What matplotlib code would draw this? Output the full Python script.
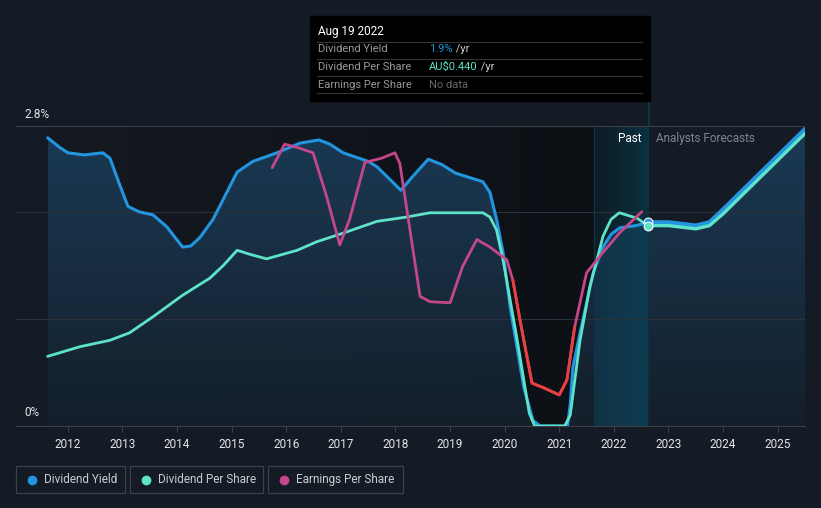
import numpy as np
import matplotlib.pyplot as plt
from matplotlib.colors import LinearSegmentedColormap

plt.rcParams['font.family'] = ['Roboto', 'DejaVu Sans']

# dividend yield (%) - past
dy_years = [2011.63, 2011.85, 2012.0, 2012.3, 2012.64, 2012.77, 2012.95, 2013.1, 2013.3, 2013.56,
            2013.81, 2014.1, 2014.25, 2014.42, 2014.66, 2014.9, 2015.1, 2015.39, 2015.83, 2016.25,
            2016.6, 2016.8, 2017.04, 2017.5, 2017.66, 2017.9, 2018.1, 2018.3, 2018.6, 2018.85,
            2019.1, 2019.6, 2019.73, 2019.85, 2019.97, 2020.1, 2020.35, 2020.52, 2020.65, 2021.15,
            2021.2, 2021.25, 2021.38, 2021.62, 2021.8, 2021.95, 2022.11, 2022.4, 2022.63]
dy_vals = [2.69, 2.60, 2.55, 2.53, 2.55, 2.50, 2.25, 2.05, 2.00, 1.97,
           1.86, 1.67, 1.68, 1.76, 1.93, 2.17, 2.37, 2.47, 2.55, 2.64,
           2.67, 2.63, 2.55, 2.47, 2.42, 2.30, 2.20, 2.32, 2.49, 2.44,
           2.36, 2.28, 2.18, 1.93, 1.62, 1.11, 0.36, 0.05, 0.0, 0.0,
           0.2, 0.55, 0.87, 1.43, 1.67, 1.79, 1.85, 1.87, 1.90]
# dividend yield - analyst forecast
dyf_years = [2022.63, 2023.0, 2023.5, 2023.75, 2024.0, 2024.5, 2025.0, 2025.5]
dyf_vals = [1.90, 1.90, 1.87, 1.90, 2.02, 2.27, 2.52, 2.77]

# dividend per share (scaled to same axis)
dps_years = [2011.63, 2012.22, 2012.77, 2013.13, 2013.56, 2014.1, 2014.6, 2014.85, 2015.1, 2015.35,
             2015.64, 2016.2, 2016.56, 2017.04, 2017.66, 2018.2, 2018.63, 2019.6, 2019.73, 2019.85,
             2019.97, 2020.22, 2020.35, 2020.45, 2020.55, 2021.1, 2021.2, 2021.38, 2021.56, 2021.8,
             2021.95, 2022.1, 2022.42, 2022.63]
dps_vals = [0.65, 0.74, 0.80, 0.87, 1.02, 1.22, 1.38, 1.50, 1.64, 1.60,
            1.56, 1.64, 1.72, 1.80, 1.91, 1.95, 1.99, 1.99, 1.95, 1.83,
            1.55, 0.83, 0.43, 0.12, 0.0, 0.0, 0.1, 0.80, 1.30, 1.77,
            1.93, 1.99, 1.94, 1.87]
dpsf_years = [2022.63, 2023.0, 2023.5, 2023.75, 2024.0, 2024.5, 2025.0, 2025.5]
dpsf_vals = [1.87, 1.87, 1.84, 1.87, 1.98, 2.23, 2.48, 2.73]

# earnings per share (scaled)
eps_years = [2015.74, 2015.97, 2016.2, 2016.49, 2016.74, 2016.98, 2017.16, 2017.44, 2017.75, 2017.99,
             2018.08, 2018.45, 2018.63, 2019.0, 2019.23, 2019.49, 2019.73, 2020.04, 2020.15, 2020.28,
             2020.5, 2020.7, 2021.0, 2021.14, 2021.28, 2021.5, 2021.8, 2022.1, 2022.51]
eps_vals = [2.41, 2.63, 2.60, 2.55, 2.14, 1.69, 1.93, 2.46, 2.50, 2.55,
            2.45, 1.21, 1.16, 1.15, 1.49, 1.74, 1.67, 1.55, 1.36, 0.99,
            0.40, 0.36, 0.29, 0.43, 0.92, 1.43, 1.62, 1.80, 2.00]

years = list(range(2012, 2026))
past_start, today = 2021.63, 2022.63

BG = '#151b25'
BLUE = '#2394df'
CYAN = '#5ee3c9'
PINK = '#c4478a'
RED = '#e8413e'

fig = plt.figure(figsize=(8.21, 5.08), dpi=100, facecolor=BG)
ax = fig.add_axes([16 / 821, 82 / 508, 789 / 821, 300 / 508])
ax.set_facecolor(BG)
x0, x1 = 2011.05, 2025.5
ax.set_xlim(x0, x1)
ax.set_ylim(0, 2.8)

# darker past background
cm_dark = LinearSegmentedColormap.from_list('d', ['#141921', '#0d1015'])
ax.imshow(np.linspace(0, 1, 200).reshape(1, -1), cmap=cm_dark, aspect='auto',
          extent=[2011.63, past_start, 0, 2.8], zorder=0)
# past highlight
cm_past = LinearSegmentedColormap.from_list('p', ['#0e1c25', '#0b3141'])
ax.imshow(np.linspace(0, 1, 200).reshape(1, -1), cmap=cm_past, aspect='auto',
          extent=[past_start, today, 0, 2.8], zorder=0)
ax.axvline(past_start, color='#12394a', lw=0.8, zorder=1)

# fill under dividend yield
all_x = dy_years + dyf_years[1:]
all_y = dy_vals + dyf_vals[1:]
poly = ax.fill_between(all_x, 0, all_y, color='none', lw=0)
cm_fill = LinearSegmentedColormap.from_list('f', ['#15202c', '#1b3c58'])
im = ax.imshow(np.linspace(0, 1, 200).reshape(-1, 1), cmap=cm_fill, aspect='auto', origin='lower',
               extent=[2011.63, x1, 0, 2.8], zorder=1, alpha=0.95)
im.set_clip_path(poly.get_paths()[0], transform=ax.transData)
px = [x for x in dy_years if x >= past_start]
py = [y for x, y in zip(dy_years, dy_vals) if x >= past_start]
poly2 = ax.fill_between([past_start] + px, 0, [np.interp(past_start, dy_years, dy_vals)] + py,
                        color='none', lw=0)
cm_pf = LinearSegmentedColormap.from_list('pf', ['#123245', '#0d3d52'])
im2 = ax.imshow(np.linspace(0, 1, 200).reshape(1, -1), cmap=cm_pf, aspect='auto',
                extent=[past_start, today, 0, 2.8], zorder=1.5)
im2.set_clip_path(poly2.get_paths()[0], transform=ax.transData)

# gridlines
for gy in [1, 2, 2.8]:
    ax.axhline(gy, color='#2c323c' if gy < 2.8 else '#3a3f48', lw=0.8, zorder=1.8)

ax.plot(dy_years, dy_vals, color=BLUE, lw=2.2, zorder=3, solid_capstyle='round', solid_joinstyle='round')
ax.plot(dyf_years, dyf_vals, color=BLUE, lw=3.2, zorder=3, solid_capstyle='round', solid_joinstyle='round')
ax.plot(dps_years, dps_vals, color=CYAN, lw=2.0, zorder=4, solid_capstyle='round', solid_joinstyle='round')
ax.plot(dpsf_years, dpsf_vals, color=CYAN, lw=2.4, zorder=4, solid_capstyle='round', solid_joinstyle='round')
ax.plot(eps_years, eps_vals, color=PINK, lw=2.0, zorder=5, solid_capstyle='round', solid_joinstyle='round')
red_x = [x for x in eps_years if 2020.15 <= x <= 2021.28]
red_y = [y for x, y in zip(eps_years, eps_vals) if 2020.15 <= x <= 2021.28]
ax.plot(red_x, red_y, color=RED, lw=2.0, zorder=5.5, solid_capstyle='round', solid_joinstyle='round')

ax.scatter([today], [dyf_vals[0]], s=40, color=BLUE, edgecolor='white', lw=0.8, zorder=7)
ax.scatter([today], [dpsf_vals[0]], s=40, color=CYAN, edgecolor='white', lw=0.8, zorder=7)

ax.text(today - 0.12, 2.68, 'Past', color='white', fontsize=8.5, ha='right', va='center', zorder=8)
ax.text(today + 0.14, 2.68, 'Analysts Forecasts', color='#7f8691', fontsize=8.5, ha='left',
        va='center', zorder=8)

for s in ['top', 'right', 'left']:
    ax.spines[s].set_visible(False)
ax.spines['bottom'].set_color('#3a3f48')
ax.set_yticks([])
ax.set_xticks(years)
ax.set_xticklabels([str(y) for y in years])
ax.tick_params(axis='x', colors='#3a3f48', labelcolor='#e2e5ea', labelsize=8.5, length=4, pad=5)

fig.text(24 / 821, 1 - 115 / 508, '2.8%', color='#e2e5ea', fontsize=8.5, va='center')
fig.text(24 / 821, 1 - 413 / 508, '0%', color='#e2e5ea', fontsize=8.5, va='center')

# tooltip
fig.add_artist(plt.Line2D([649 / 821, 649 / 821], [1 - 101 / 508, 1 - 126 / 508],
                          color='#12394a', lw=1.2))
fig.patches.append(plt.Rectangle((310 / 821, 1 - 101 / 508), 340 / 821, 85 / 508,
                                 transform=fig.transFigure, color='black', zorder=10))
fig.text(318 / 821, 1 - 31 / 508, 'Aug 19 2022', color='white', fontsize=8.5, va='center', zorder=11)
for ly in [41.5, 58.5, 76, 93]:
    fig.add_artist(plt.Line2D([317 / 821, 642 / 821], [1 - ly / 508] * 2, color='#333333', lw=0.8,
                              zorder=11))
rows = [('Dividend Yield', '1.9%', BLUE, ' /yr'), ('Dividend Per Share', 'AU$0.440', CYAN, ' /yr'),
        ('Earnings Per Share', 'No data', '#666666', '')]
for i, (lab, val, col, suf) in enumerate(rows):
    yy = 1 - (49.5 + i * 17.5) / 508
    fig.text(318 / 821, yy, lab, color='#999999', fontsize=8, va='center', zorder=11)
    t = fig.text(429 / 821, yy, val, color=col, fontsize=8, va='center', zorder=11)
    if suf:
        fig.canvas.draw()
        bb = t.get_window_extent()
        fig.text(bb.x1 / 821, yy, suf, color='#cccccc', fontsize=8, va='center', zorder=11)

# legend boxes
legend = [('Dividend Yield', BLUE, 16, 109), ('Dividend Per Share', CYAN, 130, 133),
          ('Earnings Per Share', PINK, 268, 135)]
for lab, col, lx, lw in legend:
    fig.patches.append(plt.Rectangle((lx / 821, 1 - 493 / 508), lw / 821, 27 / 508,
                                     transform=fig.transFigure, facecolor=BG, edgecolor='#3b4049',
                                     lw=0.9))
    fig.add_artist(plt.Line2D([(lx + 16) / 821], [1 - 479.5 / 508], marker='o', markersize=6,
                              color=col, lw=0))
    fig.text((lx + 28) / 821, 1 - 479.5 / 508, lab, color='#c9cdd3', fontsize=8.5, va='center')

fig.savefig('out.png', dpi=100, facecolor=BG)
